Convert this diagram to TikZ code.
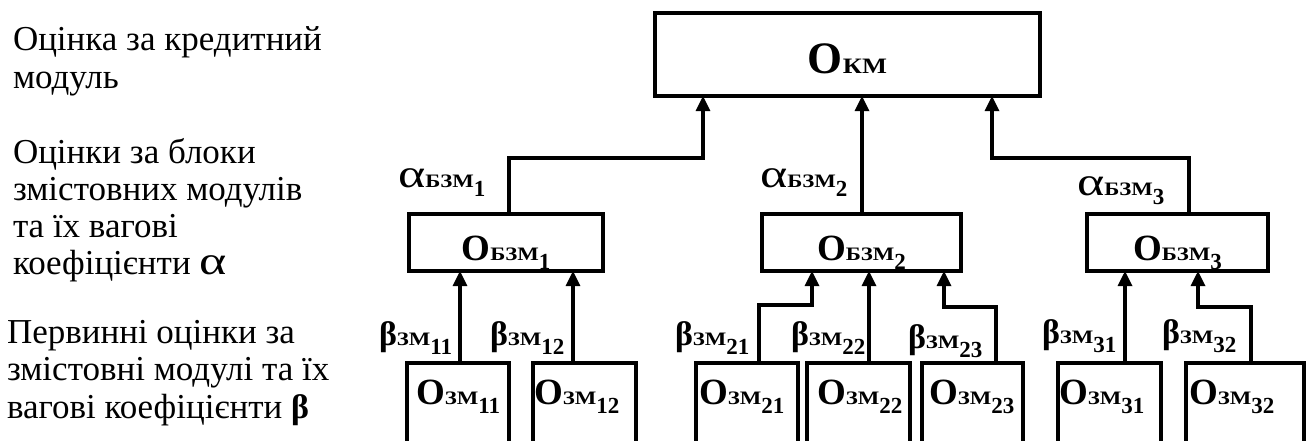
\documentclass[tikz,border=0pt]{standalone}
\usepackage{fontspec}
\setmainfont{Liberation Serif}
\usepackage{graphicx}
\usetikzlibrary{arrows.meta}
\newcommand\myO[1]{{\fontsize{#1}{#1}\selectfont\bfseries О}}
\newcommand\myC[2]{\scalebox{1.2}[1]{\fontsize{#1}{#1}\selectfont\bfseries #2}}
\newcommand\myD[1]{\raisebox{-9pt}{\fontsize{23}{23}\selectfont\bfseries #1}}
\newcommand\myA{\scalebox{1.3}[1]{\fontsize{40}{40}\selectfont α}}
\newcommand\myB{{\fontsize{34}{34}\selectfont\bfseries β}}
\begin{document}
\begin{tikzpicture}[x=1pt,y=-1pt,
  box/.style={draw, line width=3.2pt, inner sep=0pt, outer sep=0pt},
  lbl/.style={inner sep=0pt, outer sep=0pt},
  side/.style={inner sep=0pt, outer sep=0pt, anchor=base west, font=\fontsize{35}{37}\selectfont},
  arr/.style={line width=3.2pt, -{Triangle[width=14pt,length=15pt]}}]
\useasboundingbox (0,0) rectangle (1308,440);
\clip (0,0) rectangle (1308,440);

% left explanatory text
\node[side] (s1a) at (13,50) {Оцінка за кредитний};
\node[side] (s1b) at (13,88) {модуль};
\node[side] (s2a) at (13,163) {Оцінки за блоки};
\node[side] (s2b) at (13,200) {змістовних модулів};
\node[side] (s2c) at (13,237) {та їх вагові};
\node[side] (s2d) at (13,274) {коефіцієнти \myA};
\node[side] (s3a) at (7,343) {Первинні оцінки за};
\node[side] (s3b) at (7,380) {змістовні модулі та їх};
\node[side] (s3c) at (7,418) {вагові коефіцієнти \myB};

% boxes
\node[box, minimum width=385, minimum height=83] (KM) at (847.5,54.5) {};
\node[box, minimum width=194, minimum height=57] (B1) at (506,242.5) {};
\node[box, minimum width=199, minimum height=57] (B2) at (861.5,242.5) {};
\node[box, minimum width=181, minimum height=57] (B3) at (1177.5,242.5) {};
\node[box, anchor=north, minimum width=102, minimum height=120] (Z11) at (458,363) {};
\node[box, anchor=north, minimum width=103, minimum height=120] (Z12) at (584.5,363) {};
\node[box, anchor=north, minimum width=102, minimum height=120] (Z21) at (747,363) {};
\node[box, anchor=north, minimum width=103, minimum height=120] (Z22) at (858.5,363) {};
\node[box, anchor=north, minimum width=101, minimum height=120] (Z23) at (972.5,363) {};
\node[box, anchor=north, minimum width=103, minimum height=120] (Z31) at (1109.5,363) {};
\node[box, anchor=north, minimum width=118, minimum height=120] (Z32) at (1245,363) {};

% box texts
\node[lbl, anchor=base] (tKM) at (847.5,73) {\myO{45}\myC{22}{КМ}};
\node[lbl, anchor=base] (tB1) at (506,260) {\myO{37}\myC{19}{БЗМ}\myD{1}};
\node[lbl, anchor=base] (tB2) at (861.5,260) {\myO{37}\myC{19}{БЗМ}\myD{2}};
\node[lbl, anchor=base] (tB3) at (1177.5,260) {\myO{37}\myC{19}{БЗМ}\myD{3}};
\node[lbl, anchor=base west] (tZ11) at (416,404) {\myO{37}\myC{19}{ЗМ}\myD{11}};
\node[lbl, anchor=base west] (tZ12) at (534,404) {\myO{37}\myC{19}{ЗМ}\myD{12}};
\node[lbl, anchor=base west] (tZ21) at (699,404) {\myO{37}\myC{19}{ЗМ}\myD{21}};
\node[lbl, anchor=base west] (tZ22) at (817,404) {\myO{37}\myC{19}{ЗМ}\myD{22}};
\node[lbl, anchor=base west] (tZ23) at (929,404) {\myO{37}\myC{19}{ЗМ}\myD{23}};
\node[lbl, anchor=base west] (tZ31) at (1059,404) {\myO{37}\myC{19}{ЗМ}\myD{31}};
\node[lbl, anchor=base west] (tZ32) at (1189,404) {\myO{37}\myC{19}{ЗМ}\myD{32}};

% weight labels
\node[lbl, anchor=base west] (a1) at (398,187) {\myA\myC{19}{БЗМ}\myD{1}};
\node[lbl, anchor=base west] (a2) at (760,187) {\myA\myC{19}{БЗМ}\myD{2}};
\node[lbl, anchor=base west] (a3) at (1077,195) {\myA\myC{19}{БЗМ}\myD{3}};
\node[lbl, anchor=base west] (b11) at (379,345) {\myB\myC{19}{ЗМ}\myD{11}};
\node[lbl, anchor=base west] (b12) at (490,345) {\myB\myC{19}{ЗМ}\myD{12}};
\node[lbl, anchor=base west] (b21) at (675,345) {\myB\myC{19}{ЗМ}\myD{21}};
\node[lbl, anchor=base west] (b22) at (791,345) {\myB\myC{19}{ЗМ}\myD{22}};
\node[lbl, anchor=base west] (b23) at (908,348) {\myB\myC{19}{ЗМ}\myD{23}};
\node[lbl, anchor=base west] (b31) at (1042,343) {\myB\myC{19}{ЗМ}\myD{31}};
\node[lbl, anchor=base west] (b32) at (1162,343) {\myB\myC{19}{ЗМ}\myD{32}};

% connectors to top box
\draw[arr] ([xshift=3]B1.north) -- ++(0,-56) -| ([xshift=-144.5]KM.south);
\draw[arr] ([xshift=0.5]B2.north) -- ([xshift=0.5]B2.north |- KM.south);
\draw[arr] ([xshift=11.5]B3.north) -- ++(0,-56) -| ([xshift=144.5]KM.south);

% connectors to block boxes
\draw[arr] ([xshift=2]Z11.north) -- ([xshift=2]Z11.north |- B1.south);
\draw[arr] ([xshift=-11.5]Z12.north) -- ([xshift=-11.5]Z12.north |- B1.south);
\draw[arr] ([xshift=12]Z21.north) -- ++(0,-58) -| ([xshift=-49.5]B2.south);
\draw[arr] ([xshift=10.5]Z22.north) -- ([xshift=10.5]Z22.north |- B2.south);
\draw[arr] ([xshift=23.5]Z23.north) -- ++(0,-56) -| ([xshift=82.5]B2.south);
\draw[arr] ([xshift=15.5]Z31.north) -- ([xshift=15.5]Z31.north |- B3.south);
\draw[arr] ([xshift=6]Z32.north) -- ++(0,-56) -| ([xshift=20.5]B3.south);
\end{tikzpicture}
\end{document}
